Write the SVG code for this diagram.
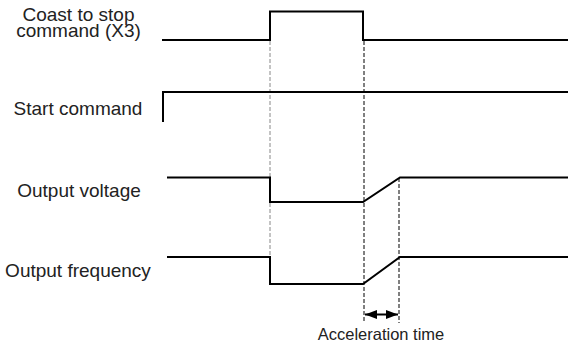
<svg xmlns="http://www.w3.org/2000/svg" width="568" height="344" viewBox="0 0 568 344">
<defs>
<style>
.lbl{font-family:"Liberation Sans",Arial,sans-serif;font-size:19px;fill:#222;text-anchor:middle}
.small{font-size:16.5px}
.sig{fill:none;stroke:#000;stroke-width:2;stroke-linejoin:miter}
.dash{fill:none;stroke:#000;stroke-width:1;stroke-dasharray:4,2}
.grey{stroke:#888}
</style>
<marker id="ah" viewBox="0 0 12 10" refX="12" refY="5" markerWidth="12" markerHeight="10" markerUnits="userSpaceOnUse" orient="auto-start-reverse">
<path d="M0,0.5 L12,5 L0,9.5 Z" fill="#000"/>
</marker>
</defs>
<rect width="568" height="344" fill="#fff"/>
<g id="connectors">
<line class="dash grey" x1="270" y1="41" x2="270" y2="284"/>
<line class="dash" x1="364" y1="41" x2="364" y2="323"/>
<line class="dash" x1="399" y1="178" x2="399" y2="323"/>
<line x1="365" y1="314.5" x2="398" y2="314.5" stroke="#000" stroke-width="2" marker-start="url(#ah)" marker-end="url(#ah)"/>
</g>
<g id="coast">
<text class="lbl" x="78.5" y="20.5">Coast to stop</text>
<text class="lbl" x="78.5" y="37">command (X3)</text>
<polyline class="sig" points="162,40 270,40 270,11.5 363,11.5 363,40 568,40"/>
</g>
<g id="start">
<text class="lbl" x="78" y="114.5">Start command</text>
<polyline class="sig" points="163,122 163,92 568,92"/>
</g>
<g id="voltage">
<text class="lbl" x="79" y="196.5">Output voltage</text>
<polyline class="sig" points="167,177.5 270,177.5 270,202 363,202 400,177.5 568,177.5"/>
</g>
<g id="frequency">
<text class="lbl" x="78" y="276.5">Output frequency</text>
<polyline class="sig" points="167,257 270,257 270,284 363,284 400,257 568,257"/>
</g>
<g id="accel">
<text class="lbl small" x="381" y="340">Acceleration time</text>
</g>
</svg>
